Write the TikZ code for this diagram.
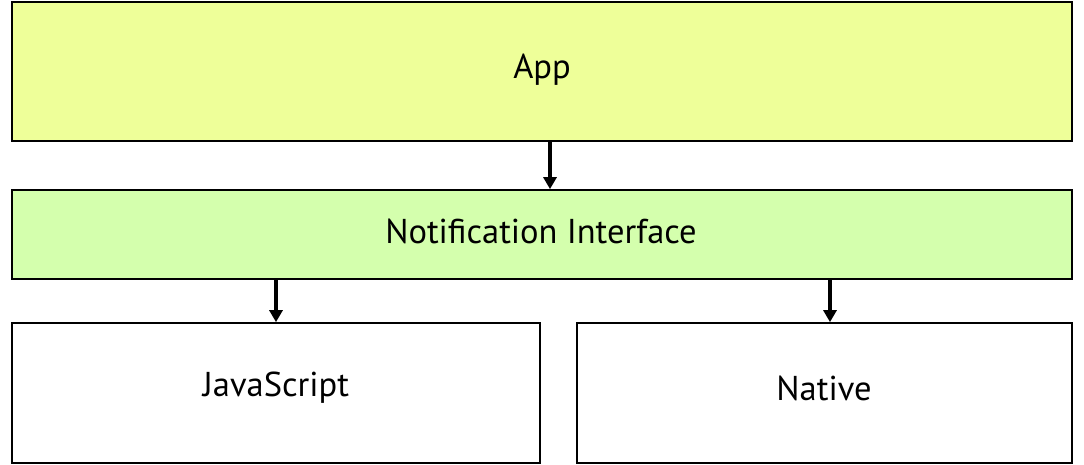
\documentclass[tikz,border=0pt]{standalone}
\usepackage{fontspec}
\setmainfont{PT Sans}
\usetikzlibrary{arrows.meta}
\definecolor{appfill}{RGB}{238,255,153}
\definecolor{nifill}{RGB}{212,255,173}
\tikzset{
  box/.style={draw=black, line width=1.7pt, inner sep=0pt},
  lbl/.style={font=\fontsize{34.5}{40}\selectfont},
  arr/.style={line width=3.5pt, -{Triangle[width=13pt,length=12pt]}}
}
\begin{document}
\begin{tikzpicture}[x=1pt,y=-1pt]
\useasboundingbox (0,0) rectangle (1084,465);
\node[box, fill=appfill, minimum width=1060pt, minimum height=139pt] (app) at (542,71.5) {};
\node[lbl] (appt) at (542,70) {App};
\node[box, fill=nifill, minimum width=1060pt, minimum height=89pt] (ni) at (542,234.5) {};
\node[lbl] (nit) at (541,231) {Notification Interface};
\node[box, minimum width=528pt, minimum height=140pt] (js) at (276,393) {};
\node[lbl] (jst) at (276,388) {JavaScript};
\node[box, minimum width=495pt, minimum height=140pt] (nat) at (824.5,393) {};
\node[lbl] (natt) at (824,388) {Native};
\draw[arr] ([xshift=8pt]app.south) -- ([xshift=8pt]ni.north);
\draw[arr] (ni.south -| js.north) -- (js.north);
\draw[arr] ([xshift=288pt]ni.south) -- ([xshift=288pt]ni.south |- nat.north);
\end{tikzpicture}
\end{document}
